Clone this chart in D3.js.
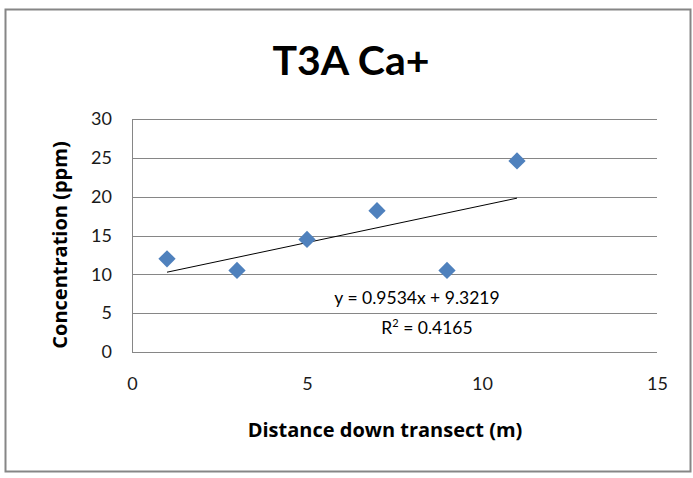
<!DOCTYPE html>
<html>
<head>
<meta charset="utf-8">
<script src="https://cdn.jsdelivr.net/npm/d3@7"></script>
<style>
  html, body { margin: 0; padding: 0; background: #fff; }
  svg text { font-family: Lato, "Open Sans", sans-serif; }
</style>
</head>
<body>
<svg id="chart" width="693" height="478"></svg>
<script>
// Ca+ concentration along transect T3A
const distances = [1, 3, 5, 7, 9, 11];
const concentrations = [12.0, 10.5, 14.5, 18.2, 10.5, 24.6];
const xTicks = [0, 5, 10, 15];
const yTicks = [0, 5, 10, 15, 20, 25, 30];
const trendSlope = 0.9534;
const trendIntercept = 9.3219;
const trendR2 = 0.4165;

const svg = d3.select("#chart");

// outer chart frame
svg.append("rect")
  .attr("x", 5.5).attr("y", 9.5)
  .attr("width", 685).attr("height", 462)
  .attr("fill", "#fff").attr("stroke", "#868686").attr("stroke-width", 2);

const plot = { left: 132, right: 657, top: 119, bottom: 352 };

const x = d3.scaleLinear().domain([0, 15]).range([plot.left, plot.right]);
const y = d3.scaleLinear().domain([0, 30]).range([plot.bottom, plot.top]);

// horizontal gridlines
svg.append("g")
  .selectAll("line").data(yTicks).join("line")
  .attr("x1", plot.left).attr("x2", plot.right)
  .attr("y1", d => Math.round(y(d)) + 0.5).attr("y2", d => Math.round(y(d)) + 0.5)
  .attr("stroke", "#868686").attr("stroke-width", 1);

// vertical axis line
svg.append("line")
  .attr("x1", plot.left + 0.5).attr("x2", plot.left + 0.5)
  .attr("y1", plot.top).attr("y2", plot.bottom + 1)
  .attr("stroke", "#868686");

// y tick labels
const yAxis = d3.axisLeft(y).tickValues(yTicks).tickSize(0).tickPadding(20);
const gy = svg.append("g").attr("transform", `translate(${plot.left},0)`).call(yAxis);
gy.select(".domain").remove();
gy.selectAll("text").attr("font-size", 18).attr("fill", "#1a1a1a")
  .style("font-family", "Lato, sans-serif");

// x tick labels
const xAxis = d3.axisBottom(x).tickValues(xTicks).tickSize(0).tickPadding(25);
const gx = svg.append("g").attr("transform", `translate(0,${plot.bottom})`).call(xAxis);
gx.select(".domain").remove();
gx.selectAll("text").attr("font-size", 18).attr("fill", "#1a1a1a")
  .style("font-family", "Lato, sans-serif");

// linear trendline across the data range
const xMin = d3.min(distances), xMax = d3.max(distances);
svg.append("line")
  .attr("x1", x(xMin)).attr("y1", y(trendSlope * xMin + trendIntercept))
  .attr("x2", x(xMax)).attr("y2", y(trendSlope * xMax + trendIntercept))
  .attr("stroke", "#000").attr("stroke-width", 1);

// diamond markers
const diamond = d3.symbol().type(d3.symbolDiamond2).size(190);
svg.append("g")
  .selectAll("path").data(distances.map((d, i) => [d, concentrations[i]])).join("path")
  .attr("d", diamond)
  .attr("transform", d => `translate(${x(d[0])},${y(d[1])})`)
  .attr("fill", "#4F81BD");

// trendline equation
svg.append("text")
  .attr("x", 417).attr("y", 304)
  .attr("text-anchor", "middle").attr("font-size", 17.5).attr("fill", "#000")
  .text(`y = ${trendSlope}x + ${trendIntercept}`);
const r2 = svg.append("text")
  .attr("x", 427).attr("y", 334)
  .attr("text-anchor", "middle").attr("font-size", 17.5).attr("fill", "#000");
r2.append("tspan").text("R");
r2.append("tspan").attr("dy", -7).attr("font-size", 11).text("2");
r2.append("tspan").attr("dy", 7).text(` = ${trendR2}`);

// title
svg.append("text")
  .attr("x", 351).attr("y", 75)
  .attr("text-anchor", "middle").attr("font-size", 41).attr("font-weight", "bold")
  .text("T3A Ca+");

// axis titles
svg.append("text")
  .attr("x", 385).attr("y", 437)
  .attr("text-anchor", "middle").attr("font-size", 20).attr("font-weight", "bold")
  .style("font-family", "'Open Sans', sans-serif")
  .text("Distance down transect (m)");
svg.append("text")
  .attr("transform", `translate(67,245) rotate(-90)`)
  .attr("text-anchor", "middle").attr("font-size", 20).attr("font-weight", "bold")
  .style("font-family", "'Open Sans', sans-serif")
  .text("Concentration (ppm)");
</script>
</body>
</html>
